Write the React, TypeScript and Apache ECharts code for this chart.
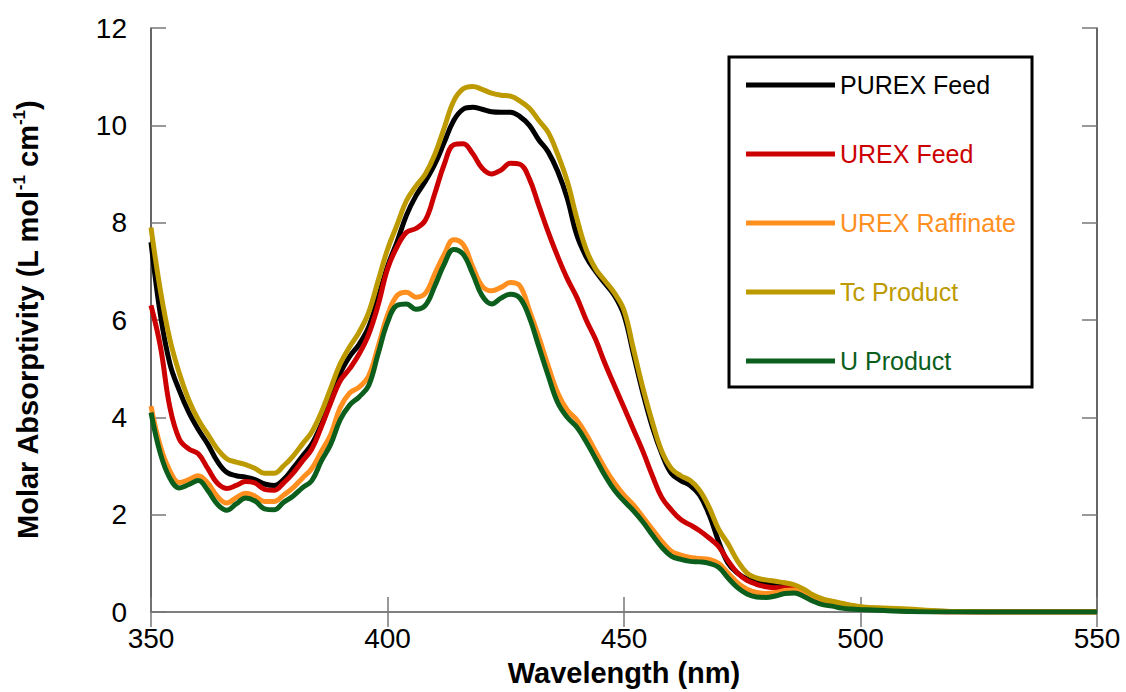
import React, { useEffect, useRef } from "react";
import * as echarts from "echarts";

const wavelengths = [
  350, 352, 354, 356, 358, 360, 362, 364, 366, 368, 370, 372, 374, 376, 378, 380,
  382, 384, 386, 388, 390, 392, 394, 396, 398, 400, 402, 404, 406, 408, 410, 412,
  414, 416, 418, 420, 422, 424, 426, 428, 430, 432, 434, 436, 438, 440, 442, 444,
  446, 448, 450, 452, 454, 456, 458, 460, 462, 464, 466, 468, 470, 472, 474, 476,
  478, 480, 482, 484, 486, 488, 490, 492, 494, 496, 498, 500, 505, 510, 515, 520,
  530, 540, 550,
];

const purexFeed = [
  7.6, 6.1, 5.1, 4.55, 4.1, 3.75, 3.45, 3.1, 2.87, 2.8, 2.77, 2.72, 2.63, 2.6, 2.72, 2.95,
  3.2, 3.45, 3.85, 4.35, 4.9, 5.25, 5.5, 5.85, 6.45, 7.1, 7.6, 8.15, 8.55, 8.85, 9.2, 9.65,
  10.1, 10.33, 10.37, 10.33, 10.28, 10.27, 10.27, 10.18, 10.0, 9.7, 9.45, 9.05, 8.5, 7.75, 7.3, 7.0,
  6.75, 6.5, 6.1, 5.3, 4.5, 3.8, 3.25, 2.85, 2.7, 2.6, 2.4, 2.0, 1.45, 1.0, 0.8, 0.68,
  0.62, 0.6, 0.58, 0.56, 0.53, 0.45, 0.33, 0.25, 0.2, 0.16, 0.12, 0.09, 0.06, 0.04, 0.02, 0.01,
  0, 0, 0,
];

const urexFeed = [
  6.3, 5.45, 4.2, 3.55, 3.35, 3.25, 2.95, 2.65, 2.54, 2.6, 2.68, 2.65, 2.52, 2.5, 2.65, 2.85,
  3.1, 3.35, 3.8, 4.3, 4.75, 5.0, 5.3, 5.7, 6.3, 7.05, 7.5, 7.8, 7.88, 8.05, 8.6, 9.2,
  9.6, 9.62, 9.42, 9.12, 9.0, 9.08, 9.22, 9.2, 8.9, 8.35, 7.8, 7.3, 6.85, 6.47, 6.0, 5.6,
  5.1, 4.65, 4.2, 3.75, 3.3, 2.8, 2.35, 2.1, 1.9, 1.79, 1.67, 1.52, 1.35, 1.05, 0.8, 0.65,
  0.57, 0.52, 0.5, 0.5, 0.5, 0.42, 0.3, 0.22, 0.16, 0.12, 0.09, 0.07, 0.04, 0.02, 0.01, 0,
  0, 0, 0,
];

const urexRaffinate = [
  4.23, 3.4, 2.9, 2.66, 2.72, 2.8, 2.65, 2.38, 2.24, 2.35, 2.44, 2.38, 2.27, 2.27, 2.4, 2.55,
  2.75, 2.95, 3.3, 3.65, 4.2, 4.5, 4.62, 4.85, 5.45, 6.1, 6.5, 6.57, 6.47, 6.55, 6.95, 7.35,
  7.65, 7.55, 7.1, 6.7, 6.6, 6.67, 6.77, 6.7, 6.2, 5.65, 5.05, 4.5, 4.15, 3.95, 3.65, 3.3,
  2.95, 2.65, 2.4, 2.2, 1.95, 1.7, 1.45, 1.25, 1.17, 1.12, 1.1, 1.08, 1.0, 0.8, 0.6, 0.47,
  0.4, 0.38, 0.4, 0.44, 0.45, 0.38, 0.3, 0.22, 0.16, 0.12, 0.09, 0.07, 0.04, 0.02, 0.01, 0,
  0, 0, 0,
];

const tcProduct = [
  7.9, 6.6, 5.6, 4.9, 4.35, 3.95, 3.65, 3.35, 3.15, 3.08, 3.03, 2.95, 2.85, 2.85, 3.0, 3.2,
  3.45, 3.7, 4.1, 4.6, 5.1, 5.45, 5.75, 6.15, 6.8, 7.45, 7.95, 8.45, 8.75, 9.0, 9.4, 9.95,
  10.5, 10.75, 10.8, 10.74, 10.66, 10.62, 10.6, 10.5, 10.35, 10.1, 9.85, 9.4, 8.85, 8.1, 7.45, 7.05,
  6.8, 6.55, 6.2, 5.4, 4.6, 3.9, 3.3, 2.95, 2.8, 2.7, 2.5, 2.15, 1.7, 1.4, 1.05, 0.8,
  0.7, 0.66, 0.63, 0.6, 0.56, 0.47, 0.35, 0.27, 0.22, 0.18, 0.14, 0.11, 0.08, 0.06, 0.03, 0.01,
  0, 0, 0,
];

const uProduct = [
  4.1, 3.25, 2.75, 2.55, 2.62, 2.7, 2.5, 2.22, 2.09, 2.22, 2.34, 2.28, 2.12, 2.1, 2.25, 2.38,
  2.55, 2.7, 3.1, 3.45, 3.95, 4.25, 4.42, 4.65, 5.3, 5.95, 6.3, 6.33, 6.22, 6.3, 6.7, 7.15,
  7.45, 7.35, 6.95, 6.5, 6.33, 6.45, 6.53, 6.45, 6.05, 5.45, 4.85, 4.3, 4.0, 3.8, 3.5, 3.15,
  2.8, 2.5, 2.28, 2.08, 1.85, 1.58, 1.33, 1.15, 1.08, 1.04, 1.03, 1.0, 0.92, 0.7, 0.5, 0.37,
  0.31, 0.3, 0.33, 0.38, 0.39, 0.32, 0.22, 0.15, 0.12, 0.08, 0.06, 0.05, 0.03, 0.01, 0, 0,
  0, 0, 0,
];

const seriesNames = ["PUREX Feed", "UREX Feed", "UREX Raffinate", "Tc Product", "U Product"];
const seriesColors = ["#000000", "#cc0000", "#ff8f1f", "#bd9a00", "#0b5e1c"];
const seriesValues = [purexFeed, urexFeed, urexRaffinate, tcProduct, uProduct];

const FONT = "'Liberation Sans', Arial, Helvetica, sans-serif";

export default function App() {
  const ref = useRef<HTMLDivElement>(null);

  useEffect(() => {
    document.body.style.margin = "0";
    if (!ref.current) return;
    const chart = echarts.init(ref.current, undefined, { renderer: "svg" });

    const series = seriesNames.map((name, i) => ({
      name,
      type: "line",
      data: wavelengths.map((w, j) => [w, seriesValues[i][j]]),
      showSymbol: false,
      smooth: 0.4,
      lineStyle: { color: seriesColors[i], width: 5 },
      itemStyle: { color: seriesColors[i] },
      z: 2 + i,
    }));

    chart.setOption({
      animation: false,
      backgroundColor: "#ffffff",
      textStyle: { fontFamily: FONT },
      grid: { left: 151, right: 29, top: 28, bottom: 74, containLabel: false },
      legend: {
        orient: "vertical",
        left: 729,
        top: 57,
        padding: [14, 16, 12, 17],
        borderColor: "#000",
        borderWidth: 3,
        backgroundColor: "#fff",
        itemWidth: 89,
        itemHeight: 5,
        itemGap: 41,
        icon: "rect",
        textStyle: { fontSize: 25, lineHeight: 28, fontFamily: FONT },
        data: seriesNames.map((n, i) => ({
          name: n,
          textStyle: { color: seriesColors[i] },
          itemStyle: { color: seriesColors[i] },
        })),
      },
      xAxis: [
        {
          type: "value",
          min: 350,
          max: 550,
          interval: 50,
          position: "bottom",
          name: "Wavelength (nm)",
          nameLocation: "middle",
          nameGap: 46,
          nameTextStyle: { fontSize: 29, fontWeight: "bold", color: "#000", fontFamily: FONT },
          axisLine: { show: true, lineStyle: { color: "#777", width: 1.5 } },
          axisTick: { show: true, inside: true, length: 15, lineStyle: { color: "#777", width: 1.5 } },
          axisLabel: { fontSize: 28, color: "#000", margin: 12, fontFamily: FONT },
          splitLine: { show: false },
        },
        {
          type: "value",
          min: 350,
          max: 550,
          interval: 50,
          position: "top",
          axisLine: { show: true, lineStyle: { color: "#777", width: 1.5 } },
          axisTick: { show: true, inside: true, length: 15, lineStyle: { color: "#777", width: 1.5 } },
          axisLabel: { show: false },
          splitLine: { show: false },
        },
      ],
      yAxis: [
        {
          type: "value",
          min: 0,
          max: 12,
          interval: 2,
          position: "left",
          name: "{b|Molar Absorptivity (L mol}{s|-1}{b| cm}{s|-1}{b|)}",
          nameLocation: "middle",
          nameGap: 106,
          nameTextStyle: {
            fontSize: 29,
            fontWeight: "bold",
            color: "#000",
            fontFamily: FONT,
            rich: {
              b: { fontSize: 29, fontWeight: "bold", color: "#000", fontFamily: FONT, lineHeight: 34 },
              s: {
                fontSize: 17,
                fontWeight: "bold",
                color: "#000",
                fontFamily: FONT,
                verticalAlign: "top",
                lineHeight: 34,
                padding: [0, 0, 14, 0],
              },
            },
          },
          axisLine: { show: true, lineStyle: { color: "#333", width: 1.5 } },
          axisTick: { show: true, inside: true, length: 15, lineStyle: { color: "#777", width: 1.5 } },
          axisLabel: { fontSize: 28, color: "#000", margin: 24, fontFamily: FONT },
          splitLine: { show: false },
        },
        {
          type: "value",
          min: 0,
          max: 12,
          interval: 2,
          position: "right",
          axisLine: { show: true, lineStyle: { color: "#333", width: 1.5 } },
          axisTick: { show: true, inside: true, length: 15, lineStyle: { color: "#777", width: 1.5 } },
          axisLabel: { show: false },
          splitLine: { show: false },
        },
      ],
      series,
    });

    return () => chart.dispose();
  }, []);

  return <div ref={ref} style={{ width: 1126, height: 692 }} />;
}
